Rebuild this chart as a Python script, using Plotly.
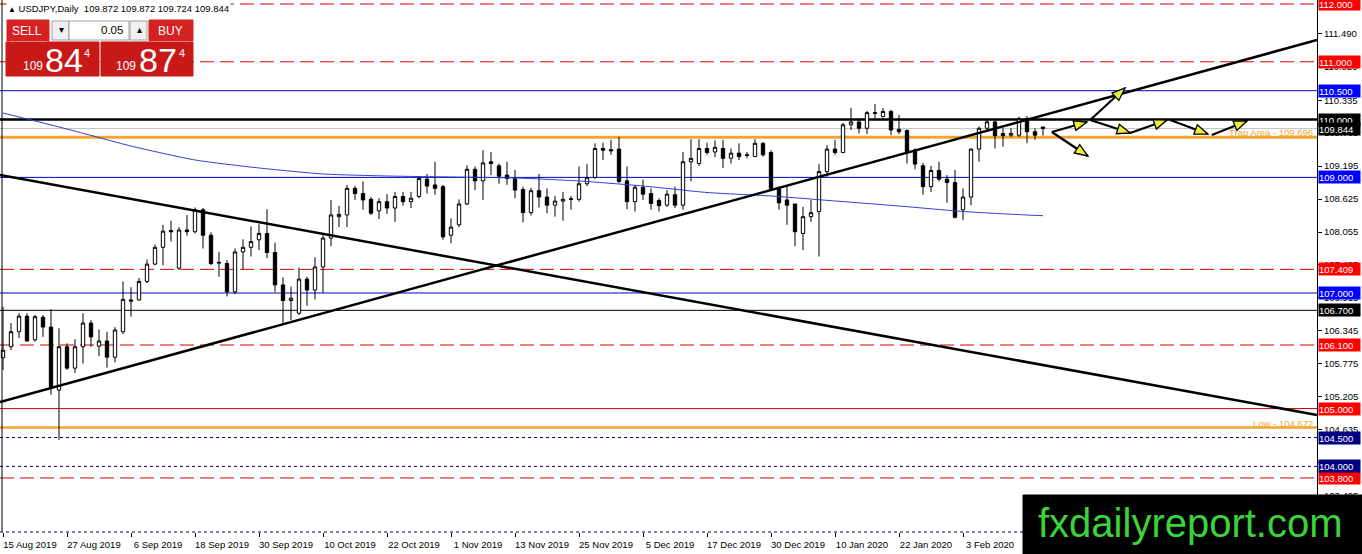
import numpy as np
import plotly.graph_objects as go

# ---- candles (USDJPY daily, 15 Aug 2019 -> 14 Feb 2020) ----
OPEN = [105.88, 106.07, 106.33, 106.60, 106.19, 106.58, 106.41, 105.32, 106.07, 105.70,
        106.07, 106.48, 106.08, 106.17, 105.89, 106.33, 106.88, 106.88, 107.20, 107.50,
        107.79, 108.08, 107.43, 108.09, 108.06, 108.44, 108.00, 107.53, 107.51, 107.02,
        107.71, 107.79, 107.92, 108.03, 107.70, 107.14, 106.87, 106.65, 107.24, 107.05,
        107.45, 107.95, 108.32, 108.35, 108.81, 108.72, 108.62, 108.42, 108.58, 108.47,
        108.67, 108.58, 108.67, 108.97, 108.87, 108.84, 108.00, 108.18, 108.54, 109.14,
        108.94, 109.27, 109.20, 109.04, 108.98, 108.79, 108.39, 108.77, 108.66, 108.52,
        108.59, 108.63, 108.62, 108.89, 109.00, 109.50, 109.48, 109.49, 108.94, 108.58,
        108.83, 108.72, 108.60, 108.52, 108.70, 108.52, 109.27, 109.24, 109.50, 109.44,
        109.50, 109.33, 109.42, 109.38, 109.36, 109.59, 109.43, 108.81, 108.61, 108.54,
        108.03, 108.32, 108.41, 109.10, 109.49, 109.43, 109.91, 109.96, 109.85, 110.12,
        110.05, 110.14, 109.83, 109.81, 109.47, 109.20, 108.84, 109.12, 108.97, 108.91,
        108.44, 108.66, 109.49, 109.85, 109.96, 109.76, 109.73, 109.73, 110.02, 109.79,
        109.872]
HIGH = [106.76, 106.48, 106.65, 106.65, 106.62, 106.62, 106.72, 106.39, 106.13, 106.20,
        106.65, 106.53, 106.37, 106.33, 106.41, 107.20, 107.10, 107.26, 107.58, 107.84,
        108.18, 108.25, 108.14, 108.35, 108.48, 108.47, 108.05, 107.71, 107.57, 107.77,
        107.93, 108.15, 108.19, 108.45, 107.87, 107.27, 107.11, 107.44, 107.28, 107.62,
        108.00, 108.61, 108.51, 108.87, 108.85, 108.93, 108.66, 108.64, 108.71, 108.75,
        108.75, 108.75, 109.02, 109.06, 109.27, 108.87, 108.29, 108.62, 109.21, 109.19,
        109.47, 109.44, 109.24, 109.27, 109.13, 108.84, 108.82, 109.06, 108.81, 108.68,
        108.75, 108.68, 109.19, 109.23, 109.59, 109.60, 109.65, 109.70, 109.19, 108.87,
        108.96, 108.81, 108.64, 108.78, 108.84, 109.44, 109.66, 109.66, 109.60, 109.64,
        109.65, 109.50, 109.59, 109.44, 109.66, 109.61, 109.47, 108.84, 108.84, 108.54,
        108.49, 108.61, 109.23, 109.56, 109.65, 109.94, 110.20, 110.02, 110.15, 110.27,
        110.20, 110.17, 110.08, 109.83, 109.50, 109.25, 109.20, 109.27, 109.04, 109.13,
        108.81, 109.50, 109.88, 109.99, 109.99, 109.85, 109.85, 110.05, 110.06, 109.85,
        109.872]
LOW = [105.67, 106.01, 106.22, 106.16, 106.16, 106.24, 105.24, 104.46, 105.67, 105.62,
       105.78, 106.07, 105.91, 105.71, 105.80, 106.29, 106.59, 106.87, 107.17, 107.48,
       107.48, 107.89, 107.40, 107.99, 108.03, 107.77, 107.48, 107.28, 106.94, 106.98,
       107.41, 107.63, 107.74, 107.60, 107.02, 106.45, 106.53, 106.62, 106.78, 106.89,
       107.00, 107.81, 108.14, 108.14, 108.61, 108.44, 108.35, 108.28, 108.37, 108.23,
       108.51, 108.47, 108.64, 108.72, 108.70, 107.92, 107.86, 108.14, 108.52, 108.78,
       108.61, 109.04, 108.89, 108.87, 108.64, 108.22, 108.34, 108.48, 108.38, 108.32,
       108.25, 108.44, 108.58, 108.85, 108.97, 109.30, 109.39, 108.90, 108.45, 108.41,
       108.61, 108.44, 108.41, 108.49, 108.47, 108.44, 108.93, 109.20, 109.39, 109.35,
       109.16, 109.24, 109.30, 109.33, 109.36, 109.36, 108.79, 108.44, 108.18, 107.81,
       107.74, 108.23, 107.63, 109.01, 109.39, 109.42, 109.82, 109.76, 109.75, 110.02,
       110.04, 109.73, 109.75, 109.24, 109.14, 108.70, 108.75, 108.93, 108.56, 108.29,
       108.26, 108.52, 109.27, 109.79, 109.50, 109.53, 109.70, 109.70, 109.59, 109.65,
       109.724]
CLOSE = [106.01, 106.33, 106.60, 106.17, 106.59, 106.41, 105.38, 106.07, 105.70, 106.07,
         106.48, 106.24, 106.17, 105.89, 106.36, 106.89, 106.86, 107.20, 107.50, 107.79,
         108.07, 108.06, 108.09, 108.06, 108.44, 108.00, 107.51, 107.52, 107.02, 107.71,
         107.79, 107.89, 108.03, 107.70, 107.14, 106.87, 106.91, 107.24, 107.05, 107.45,
         107.95, 108.35, 108.36, 108.81, 108.72, 108.61, 108.38, 108.58, 108.47, 108.67,
         108.58, 108.64, 108.98, 108.85, 108.81, 107.97, 108.14, 108.54, 109.14, 108.94,
         109.25, 109.24, 109.02, 108.98, 108.78, 108.39, 108.77, 108.66, 108.52, 108.59,
         108.62, 108.62, 108.89, 109.00, 109.50, 109.47, 109.46, 108.93, 108.58, 108.83,
         108.71, 108.55, 108.51, 108.71, 108.52, 109.27, 109.33, 109.50, 109.43, 109.52,
         109.33, 109.42, 109.36, 109.39, 109.59, 109.39, 108.81, 108.56, 108.52, 108.06,
         108.32, 108.39, 109.10, 109.49, 109.43, 109.91, 109.96, 109.85, 110.12, 110.11,
         110.14, 109.82, 109.79, 109.44, 109.23, 108.84, 109.12, 108.97, 108.91, 108.31,
         108.66, 109.49, 109.85, 109.96, 109.72, 109.72, 109.76, 110.02, 109.79, 109.73,
         109.844]

# MT4 puts a date label on every 8th bar
TICK_LABELS = ["15 Aug 2019", "27 Aug 2019", "6 Sep 2019", "18 Sep 2019", "30 Sep 2019",
               "10 Oct 2019", "22 Oct 2019", "1 Nov 2019", "13 Nov 2019", "25 Nov 2019",
               "5 Dec 2019", "17 Dec 2019", "30 Dec 2019", "10 Jan 2020", "22 Jan 2020",
               "3 Feb 2020"]
TICK_EVERY = 8

PRICE_TICKS = [111.490, 110.920, 110.335, 109.765, 109.195, 108.625, 108.055, 107.485,
               106.915, 106.345, 105.775, 105.205, 104.635, 104.065, 103.495]

# moving average (blue curve), sampled at these bars
MA_BAR = [0, 8, 16, 24, 32, 40, 48, 56, 64, 72, 80, 88, 96, 104, 112, 120, 128, 130]
MA_VALUE = [110.114, 109.837, 109.543, 109.301, 109.163, 109.059, 109.024, 109.007, 108.990,
            108.938, 108.851, 108.739, 108.678, 108.592, 108.505, 108.410, 108.349, 108.337]

# horizontal levels
RED_DASH_LEVELS = [112.000, 111.000, 107.409, 106.100, 103.800]
BLUE_LEVELS = [110.500, 109.000, 107.000]
BLACK_LEVELS = [110.000, 106.700]
NAVY_DOT_LEVELS = [104.500, 104.000]
RED_SOLID_LEVELS = [105.000]
TRAP_AREA = 109.696
LOW_LEVEL = 104.672
LAST_PRICE = 109.844
BAR_OHLC_TEXT = "109.872 109.872 109.724 109.844"

# trend lines (bar, price) at the left and right edge of the chart
TREND_BARS = [-0.375, 164.25]
TREND_DOWN = [109.04, 104.89]
TREND_UP = [105.114, 111.377]

# projection arrows: (bar, price) start -> end
ARROWS = [((131.1, 109.785), (135.5, 109.958)),
          ((135.9, 109.993), (140.25, 110.547)),
          ((135.9, 109.993), (140.9, 109.768)),
          ((140.9, 109.768), (145.5, 109.993)),
          ((145.9, 109.993), (150.6, 109.751)),
          ((151.1, 109.734), (155.5, 109.976)),
          ((131.1, 109.785), (135.6, 109.370))]

# ---- layout geometry ----
W, H = 1362, 554
PLOT_W, PLOT_H = 1317, 532
X_RANGE = [-0.375, 164.25]
Y_RANGE = [102.865, 112.069]
FONT = "Liberation Sans, Arial, sans-serif"

RED = "#d00000"
ORANGE = "#f2a533"


def px(x):
    return x / PLOT_W


def py(y):
    return (PLOT_H - y) / PLOT_H


def to_px(b, p):
    return ((b - X_RANGE[0]) / (X_RANGE[1] - X_RANGE[0]) * PLOT_W,
            (Y_RANGE[1] - p) / (Y_RANGE[1] - Y_RANGE[0]) * PLOT_H)


def to_data(x, y):
    return (X_RANGE[0] + x / PLOT_W * (X_RANGE[1] - X_RANGE[0]),
            Y_RANGE[1] - y / PLOT_H * (Y_RANGE[1] - Y_RANGE[0]))


def hline(p, color, width=1, dash="solid"):
    return dict(type="line", xref="paper", yref="y", x0=0, x1=1, y0=p, y1=p,
                line=dict(color=color, width=width, dash=dash), layer="below")


def box(x0, y0, x1, y1, fill, line_color=None):
    return dict(type="rect", xref="paper", yref="paper", x0=px(x0), x1=px(x1),
                y0=py(y1), y1=py(y0), fillcolor=fill, layer="above",
                line=dict(color=line_color or fill, width=1))


bars = np.arange(len(OPEN))

fig = go.Figure()
fig.add_trace(go.Candlestick(
    x=bars, open=OPEN, high=HIGH, low=LOW, close=CLOSE,
    increasing=dict(fillcolor="white", line=dict(color="black", width=1)),
    decreasing=dict(fillcolor="black", line=dict(color="black", width=1)),
    whiskerwidth=0, showlegend=False, hoverinfo="skip"))

fig.add_trace(go.Scatter(x=MA_BAR, y=MA_VALUE, mode="lines", showlegend=False,
                         line=dict(color="#2b3fd0", width=1, shape="spline", smoothing=0.6),
                         hoverinfo="skip"))

for prices in (TREND_DOWN, TREND_UP):
    fig.add_trace(go.Scatter(x=TREND_BARS, y=prices, mode="lines", showlegend=False,
                             line=dict(color="black", width=2.5), hoverinfo="skip"))

shapes = []
for p in RED_DASH_LEVELS:
    shapes.append(hline(p, RED, 1, "14px,6px"))
for p in BLUE_LEVELS:
    shapes.append(hline(p, "#0000c8", 1))
shapes.append(hline(BLACK_LEVELS[0], "black", 2.5))
shapes.append(hline(BLACK_LEVELS[1], "black", 1))
for p in NAVY_DOT_LEVELS:
    shapes.append(hline(p, "#000080", 1, "3px,3px"))
for p in RED_SOLID_LEVELS:
    shapes.append(hline(p, "#c00000", 1))
shapes.append(hline(LAST_PRICE, "#c0c0c0", 1))
shapes.append(hline(TRAP_AREA, ORANGE, 3))
shapes.append(hline(LOW_LEVEL, ORANGE, 2.5))

# chart frame: dotted bottom edge and thin left border
shapes.append(dict(type="line", xref="paper", yref="paper", x0=0, x1=1, y0=0, y1=0,
                   line=dict(color="#000080", width=1, dash="3px,3px")))
shapes.append(dict(type="line", xref="paper", yref="paper", x0=px(2), x1=px(2), y0=0, y1=1,
                   line=dict(color="black", width=1)))

# arrows with yellow heads
for (b0, p0), (b1, p1) in ARROWS:
    fig.add_trace(go.Scatter(x=[b0, b1], y=[p0, p1], mode="lines", showlegend=False,
                             line=dict(color="black", width=2.2), hoverinfo="skip"))
    x0, y0 = to_px(b0, p0)
    x1, y1 = to_px(b1, p1)
    d = np.array([x1 - x0, y1 - y0])
    d = d / np.hypot(*d)
    n = np.array([-d[1], d[0]])
    base = np.array([x1, y1]) - d * 13
    pts = [to_data(x1, y1), to_data(*(base + n * 5)), to_data(*(base - n * 5))]
    path = "M {} {} L {} {} L {} {} Z".format(*[v for pt in pts for v in pt])
    shapes.append(dict(type="path", xref="x", yref="y", path=path, fillcolor="#e8f03a",
                       line=dict(color="black", width=1.3), layer="above"))

# ---- one-click trading panel (top left) ----
shapes += [
    box(7, 20, 49, 41, "#d42222"),
    box(149, 20, 193, 41, "#d42222"),
    box(6, 42, 99, 76, "#c81818"),
    box(101, 42, 193, 76, "#c81818"),
    box(52, 21, 69, 40, "#f0f0f0", "#a0a0a0"),
    box(69, 21, 129, 40, "white", "#a0a0a0"),
    box(130, 21, 147, 40, "#f0f0f0", "#a0a0a0"),
    dict(type="line", xref="paper", yref="paper", x0=px(10), x1=px(47), y0=py(41.5), y1=py(41.5),
         line=dict(color="#e88080", width=1), layer="above"),
    dict(type="line", xref="paper", yref="paper", x0=px(151), x1=px(191), y0=py(41.5), y1=py(41.5),
         line=dict(color="#e88080", width=1), layer="above"),
]

# watermark
shapes.append(box(1023, 495, 1362, 554, "black"))

annotations = []


def note(text, x, y, size, color="black", xanchor="center", **kw):
    annotations.append(dict(text=text, xref="paper", yref="paper", x=px(x), y=py(y),
                            xanchor=xanchor, yanchor="middle", showarrow=False,
                            font=dict(family=FONT, size=size, color=color), **kw))


note("<span style='font-size:8px'>▲</span> USDJPY,Daily  " + BAR_OHLC_TEXT, 6, 9, 9.5,
     xanchor="left", bgcolor="white")
note("SELL", 27, 31, 12, "white")
note("BUY", 170, 31, 12, "white")
note("▾", 61, 30, 10)
note("▴", 139, 30, 10)
note("0.05", 125, 30.5, 11.5, xanchor="right")
note("109", 33, 66, 12, "white")
note("84", 64, 60, 34, "white")
note("4", 87, 53, 11, "white")
note("109", 126, 66, 12, "white")
note("87", 158, 60, 34, "white")
note("4", 182, 53, 11, "white")
note("fxdailyreport.com", 1190, 523, 40, "#3ad43a")

# text on the orange levels
for p, label in ((TRAP_AREA, "Trap Area - {:.3f}".format(TRAP_AREA)),
                 (LOW_LEVEL, "Low - {:.3f}".format(LOW_LEVEL))):
    annotations.append(dict(text=label, xref="paper", yref="y", x=1, y=p, xanchor="right",
                            yanchor="bottom", xshift=-2, yshift=-3, showarrow=False,
                            font=dict(family=FONT, size=9.5, color=ORANGE)))

# price tags on the right scale
tags = ([(p, "#ff0000") for p in RED_DASH_LEVELS + RED_SOLID_LEVELS]
        + [(p, "#0000ff") for p in BLUE_LEVELS]
        + [(p, "black") for p in BLACK_LEVELS]
        + [(p, "#000080") for p in NAVY_DOT_LEVELS]
        + [(LAST_PRICE, "black")])
for p, bg in tags:
    annotations.append(dict(text="{:.3f}".format(p), xref="paper", yref="y", x=1, y=p,
                            xanchor="left", yanchor="middle", xshift=1, showarrow=False,
                            bgcolor=bg, borderpad=0, width=41, height=12, align="left",
                            font=dict(family=FONT, size=9.5, color="white")))

fig.update_layout(
    width=W, height=H,
    margin=dict(l=0, r=W - PLOT_W, t=0, b=H - PLOT_H),
    paper_bgcolor="white", plot_bgcolor="white",
    shapes=shapes, annotations=annotations,
    boxgap=0.4, showlegend=False,
    xaxis=dict(range=X_RANGE, rangeslider=dict(visible=False), showgrid=False, zeroline=False,
               tickmode="array", tickvals=[i * TICK_EVERY for i in range(len(TICK_LABELS))],
               ticktext=TICK_LABELS, ticks="outside", ticklen=4, tickcolor="black",
               ticklabelshift=27, showline=False,
               tickfont=dict(family=FONT, size=9.5, color="black")),
    yaxis=dict(range=Y_RANGE, side="right", showgrid=False, zeroline=False,
               tickmode="array", tickvals=PRICE_TICKS,
               ticktext=["{:.3f}".format(v) for v in PRICE_TICKS],
               ticks="outside", ticklen=4, tickcolor="black",
               showline=True, linecolor="black", linewidth=1,
               tickfont=dict(family=FONT, size=9.5, color="black")),
)

# the page's default body margin would shift the chart by 8px
fig.write_html("out.html", config={"displayModeBar": False},
               post_script="document.body.style.margin='0';")
